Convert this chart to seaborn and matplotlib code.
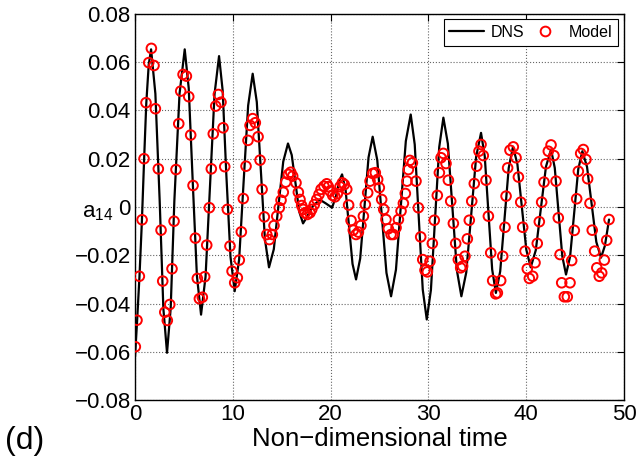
import numpy as np
import pandas as pd
import seaborn as sns
import matplotlib.pyplot as plt
from matplotlib.lines import Line2D
from matplotlib.ticker import MultipleLocator, FuncFormatter

# DNS signal a_14 (extrema, mid-crossings and quarter points)
dns_t = [0, 0.2, 0.45, 0.7, 0.93, 1.15, 1.4, 1.64,
         2.08, 2.52, 2.895, 3.27,
         3.645, 4.02, 4.55, 5.08,
         5.49, 5.9, 6.325, 6.75,
         7.21, 7.67, 8.13, 8.59,
         8.96, 9.33, 9.76, 10.19,
         10.645, 11.1, 11.565, 12.03,
         12.45, 12.865, 13.28, 13.7,
         14.19, 14.67, 15.155, 15.64,
         16.025, 16.41, 16.795, 17.18,
         17.6, 18.2, 18.9, 19.5, 20.15, 20.55, 20.9, 21.17,
         21.53, 21.885, 22.24, 22.6,
         23.025, 23.45, 23.875, 24.3,
         24.77, 25.24, 25.71, 26.18,
         26.68, 27.185, 27.69, 28.19,
         28.6, 29.01, 29.42, 29.83,
         30.255, 30.68, 31.105, 31.53,
         31.99, 32.45, 32.91, 33.37,
         33.87, 34.375, 34.88, 35.38,
         35.76, 36.14, 36.52, 36.9,
         37.34, 37.775, 38.21, 38.65,
         39.1, 39.555, 40.01, 40.46,
         40.98, 41.5, 42.02, 42.54,
         42.92, 43.305, 43.69, 44.07,
         44.49, 44.905, 45.32, 45.74,
         46.22, 46.695, 47.17, 47.65,
         48.05, 48.47]
dns_y = [-0.062, -0.048, -0.029, -0.006, 0.020, 0.043, 0.059, 0.0653,
         0.0469, 0.0025, -0.0420, -0.0604,
         -0.0420, 0.0025, 0.0469, 0.0653,
         0.0492, 0.0104, -0.0285, -0.0446,
         -0.0289, 0.0090, 0.0468, 0.0625,
         0.0482, 0.0138, -0.0206, -0.0349,
         -0.0217, 0.0102, 0.0420, 0.0552,
         0.0435, 0.0151, -0.0133, -0.0250,
         -0.0175, 0.0007, 0.0188, 0.0263,
         0.0215, 0.0098, -0.0020, -0.0068,
         -0.0040, 0.0005, 0.0030, 0.0015, -0.0003, 0.0045, 0.0110, 0.0135,
         0.0071, -0.0083, -0.0236, -0.0300,
         -0.0213, -0.0005, 0.0205, 0.0291,
         0.0194, -0.0040, -0.0273, -0.0370,
         -0.0260, 0.0007, 0.0273, 0.0383,
         0.0259, -0.0042, -0.0342, -0.0466,
         -0.0344, -0.0048, 0.0248, 0.0370,
         0.0262, 0.0, -0.0262, -0.0370,
         -0.0271, -0.0032, 0.0208, 0.0307,
         0.0210, -0.0025, -0.0259, -0.0356,
         -0.0267, -0.0053, 0.0161, 0.0250,
         0.0177, 0.0, -0.0177, -0.0250,
         -0.0179, -0.0006, 0.0167, 0.0238,
         0.0162, -0.0021, -0.0204, -0.0280,
         -0.0205, -0.0025, 0.0156, 0.0231,
         0.0166, 0.0011, -0.0145, -0.0210,
         -0.0160, -0.0052]

# reduced-order model samples
model_t = [0.03, 0.2, 0.44, 0.72, 0.92, 1.12, 1.4, 1.67, 1.94, 2.08,
           2.38, 2.66, 2.83, 3.04, 3.3, 3.55, 3.78, 3.99, 4.19, 4.47,
           4.67, 4.91, 5.25, 5.49, 5.69, 5.93, 6.17, 6.37, 6.58, 6.88,
           7.12, 7.33, 7.6, 7.8, 8.0, 8.25, 8.52, 8.79, 9.0, 9.17,
           9.44, 9.71, 9.92, 10.19, 10.46, 10.66, 10.87, 11.07, 11.35, 11.55,
           11.76, 12.03, 12.3, 12.58, 12.78, 12.99, 13.22, 13.47, 13.73, 14.04,
           14.21, 14.49, 14.75, 14.93, 15.16, 15.41, 15.68, 15.92, 16.12, 16.46,
           16.7, 16.87, 17.04, 17.21, 17.38, 17.62, 17.89, 18.07, 18.33, 18.58,
           18.81, 19.02, 19.32, 19.6, 19.77, 19.94, 20.21, 20.45, 20.69, 20.96,
           21.2, 21.4, 21.65, 21.84, 22.09, 22.32, 22.6, 22.84, 23.1, 23.35,
           23.55, 23.79, 24.03, 24.3, 24.57, 24.81, 24.98, 25.22, 25.43, 25.66,
           25.9, 26.18, 26.41, 26.69, 26.93, 27.2, 27.44, 27.64, 27.81, 27.95,
           28.1, 28.36, 28.73, 28.97, 29.21, 29.42, 29.65, 29.89, 30.16, 30.4,
           30.6, 30.91, 31.12, 31.29, 31.53, 31.8, 32.04, 32.28, 32.55, 32.79,
           33.06, 33.3, 33.5, 33.74, 33.98, 34.18, 34.43, 34.69, 34.94, 35.17,
           35.38, 35.61, 35.89, 36.13, 36.37, 36.57, 36.88, 37.05, 37.39, 37.6,
           37.83, 37.94, 38.1, 38.34, 38.68, 38.96, 39.2, 39.44, 39.64, 39.88,
           40.11, 40.32, 40.66, 40.9, 41.13, 41.34, 41.58, 41.82, 42.02, 42.26,
           42.54, 42.84, 43.05, 43.28, 43.46, 43.63, 43.9, 44.2, 44.48, 44.65,
           44.92, 45.16, 45.33, 45.57, 45.84, 46.11, 46.28, 46.52, 46.75, 47.0,
           47.22, 47.47, 47.72, 47.99, 48.23, 48.47]
model_y = [-0.0579, -0.0469, -0.0287, -0.0053, 0.0200, 0.0432, 0.0598, 0.0657, 0.0586, 0.0407,
           0.0158, -0.0096, -0.0307, -0.0436, -0.0470, -0.0404, -0.0256, -0.0059, 0.0155, 0.0345,
           0.0480, 0.0549, 0.0542, 0.0457, 0.0298, 0.0089, -0.0129, -0.0296, -0.0380, -0.0374,
           -0.0289, -0.0158, -0.0003, 0.0158, 0.0303, 0.0418, 0.0466, 0.0434, 0.0328, 0.0167,
           -0.0010, -0.0162, -0.0266, -0.0314, -0.0293, -0.0220, -0.0103, 0.0035, 0.0169, 0.0276,
           0.0338, 0.0366, 0.0349, 0.0291, 0.0194, 0.0073, -0.0041, -0.0114, -0.0135, -0.0114,
           -0.0077, -0.0038, -0.0003, 0.0028, 0.0061, 0.0103, 0.0135, 0.0144, 0.0128, 0.0100,
           0.0061, 0.0031, 0.0006, -0.0010, -0.0024, -0.0031, -0.0024, -0.0010, 0.0010, 0.0031,
           0.0052, 0.0073, 0.0086, 0.0096, 0.0084, 0.0066, 0.0048, 0.0042, 0.0055, 0.0084,
           0.0100, 0.0093, 0.0073, 0.0008, -0.0056, -0.0096, -0.0114, -0.0104, -0.0077, -0.0038,
           0.0010, 0.0059, 0.0107, 0.0139, 0.0142, 0.0114, 0.0080, 0.0031, -0.0010, -0.0052,
           -0.0090, -0.0114, -0.0114, -0.0086, -0.0052, -0.0017, 0.0015, 0.0056, 0.0107, 0.0155,
           0.0193, 0.0183, 0.0107, -0.0003, -0.0124, -0.0218, -0.0262, -0.0269, -0.0225, -0.0151,
           -0.0055, 0.0048, 0.0142, 0.0204, 0.0222, 0.0180, 0.0111, 0.0024, -0.0068, -0.0151,
           -0.0218, -0.0252, -0.0245, -0.0204, -0.0132, -0.0055, 0.0024, 0.0097, 0.0169, 0.0231,
           0.0259, 0.0213, 0.0111, -0.0038, -0.0190, -0.0305, -0.0360, -0.0356, -0.0305, -0.0204,
           -0.0084, 0.0045, 0.0162, 0.0235, 0.0249, 0.0204, 0.0124, 0.0020, -0.0084, -0.0183,
           -0.0256, -0.0296, -0.0287, -0.0231, -0.0151, -0.0061, 0.0020, 0.0103, 0.0179, 0.0231,
           0.0257, 0.0213, 0.0107, -0.0045, -0.0197, -0.0314, -0.0372, -0.0372, -0.0314, -0.0222,
           -0.0097, 0.0034, 0.0148, 0.0222, 0.0238, 0.0197, 0.0117, 0.0015, -0.0096, -0.0183,
           -0.0252, -0.0287, -0.0273, -0.0220, -0.0138, -0.0052]

dns = pd.DataFrame({"t": dns_t, "a14": dns_y})
model = pd.DataFrame({"t": model_t, "a14": model_y})

sns.set_style("whitegrid")
plt.rcParams['font.family'] = ['Liberation Sans', 'DejaVu Sans']
plt.rcParams['mathtext.fontset'] = 'custom'
plt.rcParams['mathtext.rm'] = 'Liberation Sans'
plt.rcParams['mathtext.it'] = 'Liberation Sans'
for key in ['text.color', 'axes.labelcolor', 'xtick.color', 'ytick.color']:
    plt.rcParams[key] = 'black'

fig = plt.figure(figsize=(6.4, 4.62), dpi=100)
ax = fig.add_axes([0.211, 0.134, 0.764, 0.836])

sns.lineplot(data=dns, x="t", y="a14", color="black", linewidth=1.6,
             estimator=None, sort=False, ax=ax, legend=False, zorder=2)
sns.scatterplot(data=model, x="t", y="a14", marker="o", s=48,
                facecolors="none", edgecolor="red", linewidth=1.4,
                ax=ax, legend=False, zorder=3)

ax.set_xlim(0, 50)
ax.set_ylim(-0.08, 0.08)
ax.xaxis.set_major_locator(MultipleLocator(10))
ax.yaxis.set_major_locator(MultipleLocator(0.02))
ax.yaxis.set_major_formatter(FuncFormatter(
    lambda v, p: "0" if abs(v) < 1e-9 else f"{v:.2f}".replace("-", "\u2212")))

ax.grid(True, linestyle=":", color="0.4", linewidth=0.8)
for s in ax.spines.values():
    s.set_color("black")
    s.set_linewidth(1.0)
ax.tick_params(direction="in", top=True, right=True, length=5, width=0.8,
               labelsize=16, colors="black", pad=3)

ax.set_xlabel("Non\u2212dimensional time", fontsize=18.5, labelpad=1)
ax.set_ylabel("a$_{\\mathregular{14}}$", fontsize=16, rotation=0,
              ha="center", va="center")
ax.yaxis.set_label_coords(-0.076, 0.485)

handles = [Line2D([], [], color="black", linewidth=1.6),
           Line2D([], [], linestyle="none", marker="o", markersize=7,
                  markerfacecolor="none", markeredgecolor="red", markeredgewidth=1.4)]
leg = ax.legend(handles, ["DNS", "Model"], loc="upper right", ncol=2,
                fontsize=11.5, frameon=True, fancybox=False, framealpha=1,
                edgecolor="black", borderaxespad=0.35, handlelength=2.2,
                columnspacing=0.2, handletextpad=0.4, borderpad=0.35)
leg.get_frame().set_linewidth(0.8)

fig.text(5 / 640, 1 - 441 / 462, "(d)", fontsize=23, ha="left", va="center")

fig.savefig("out.png", dpi=100)
